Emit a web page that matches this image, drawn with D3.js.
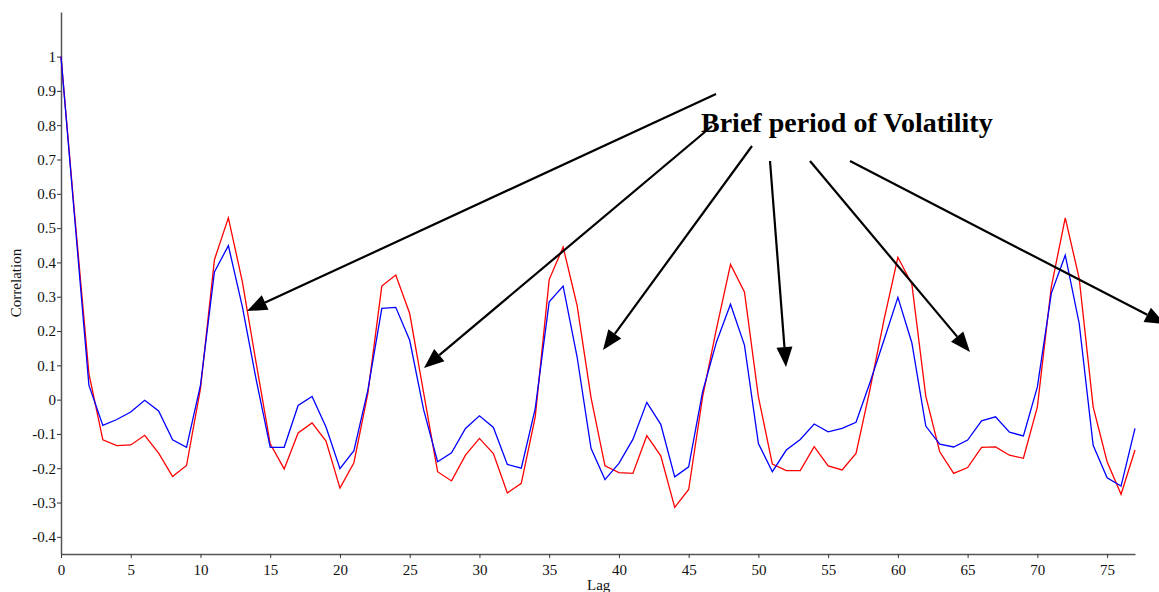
<!DOCTYPE html>
<html><head><meta charset="utf-8">
<script src="https://cdn.jsdelivr.net/npm/d3@7"></script>
<style>
body{margin:0;background:#fff;}
svg{display:block;}
svg text{font-family:"Liberation Serif","Times New Roman",serif !important;}
</style></head>
<body><svg id="chart" width="1159" height="592"></svg>
<script>
const lags = d3.range(0, 78);
const blueSeries = [1.0,0.52,0.042,-0.075,-0.058,-0.036,-0.002,-0.033,-0.117,-0.139,
 0.042,0.372,0.449,0.271,0.057,-0.139,-0.139,-0.017,0.009,-0.08,
 -0.201,-0.149,0.028,0.266,0.269,0.173,-0.03,-0.181,-0.155,-0.084,
 -0.047,-0.081,-0.189,-0.2,-0.026,0.285,0.331,0.125,-0.142,-0.233,
 -0.186,-0.116,-0.008,-0.072,-0.225,-0.196,0.023,0.169,0.278,0.159,
 -0.128,-0.21,-0.147,-0.116,-0.071,-0.094,-0.084,-0.066,0.05,0.173,
 0.298,0.166,-0.077,-0.13,-0.138,-0.118,-0.062,-0.05,-0.095,-0.106,
 0.037,0.31,0.421,0.222,-0.133,-0.228,-0.252,-0.084];
const redSeries = [1.0,0.53,0.076,-0.117,-0.134,-0.132,-0.104,-0.156,-0.224,-0.192,
 0.032,0.408,0.53,0.344,0.105,-0.129,-0.202,-0.097,-0.068,-0.121,
 -0.258,-0.184,0.018,0.331,0.363,0.251,0.02,-0.21,-0.237,-0.162,
 -0.113,-0.157,-0.272,-0.244,-0.05,0.35,0.445,0.275,0.006,-0.193,
 -0.213,-0.215,-0.105,-0.164,-0.314,-0.262,0.008,0.208,0.394,0.314,
 0.008,-0.188,-0.207,-0.207,-0.137,-0.193,-0.205,-0.157,0.03,0.232,
 0.415,0.337,0.01,-0.152,-0.215,-0.198,-0.139,-0.138,-0.162,-0.171,
 -0.021,0.329,0.53,0.353,-0.021,-0.181,-0.276,-0.147];
const xTicks = d3.range(0, 80, 5);
const yTicks = [-0.4,-0.3,-0.2,-0.1,0,0.1,0.2,0.3,0.4,0.5,0.6,0.7,0.8,0.9,1];
const annotationText = "Brief period of Volatility";
const arrows = [
  {from:[716,94], to:[247,311]},
  {from:[712,126], to:[424,368]},
  {from:[752,146], to:[603,350]},
  {from:[770,161], to:[786,367]},
  {from:[810,161], to:[970,352]},
  {from:[850,161], to:[1165,324]}
];

const svg = d3.select("#chart");
const x = d3.scaleLinear().domain([0, 77]).range([61, 1135]);
const y = d3.scaleLinear().domain([-0.45, 1.13]).range([554, 12]);

// axes
const xAxis = d3.axisBottom(x).tickValues(xTicks).tickSize(4).tickSizeOuter(0).tickFormat(d3.format("d"));
const gx = svg.append("g").attr("transform", `translate(0,${y(-0.45)})`).call(xAxis);
gx.attr("font-family", null).attr("font-size", null);
gx.select(".domain").attr("stroke", "#555").attr("stroke-width", 1.5);
gx.selectAll(".tick line").attr("stroke", "#333");
gx.selectAll(".tick text").style("font-size", "15px").attr("fill", "#111").attr("dy", "0.9em");

const yAxis = d3.axisLeft(y).tickValues(yTicks).tickSize(4).tickSizeOuter(0).tickFormat(d => String(+d.toFixed(1)));
const gy = svg.append("g").attr("transform", `translate(${x(0)},0)`).call(yAxis);
gy.attr("font-family", null).attr("font-size", null);
gy.select(".domain").attr("stroke", "#555").attr("stroke-width", 1.5);
gy.selectAll(".tick line").attr("stroke", "#333");
gy.selectAll(".tick text").style("font-size", "15px").attr("fill", "#111").attr("x", -5);

// axis titles
svg.append("text").attr("x", 587).attr("y", 590).style("font-size", "15px").attr("fill", "#111").text("Lag");
svg.append("text").attr("transform", "translate(21,283) rotate(-90)").attr("text-anchor", "middle")
  .style("font-size", "15px").attr("fill", "#111").text("Correlation");

// lines
const line = d3.line().x((d, i) => x(lags[i])).y(d => y(d));
svg.append("path").datum(redSeries).attr("d", line).attr("fill", "none").attr("stroke", "#ff0000").attr("stroke-width", 1.3);
svg.append("path").datum(blueSeries).attr("d", line).attr("fill", "none").attr("stroke", "#0000ff").attr("stroke-width", 1.3);

// annotation text
svg.append("text").attr("x", 701).attr("y", 132).style("font-size", "28px").attr("font-weight", "bold")
  .attr("fill", "#000").text(annotationText);

// arrows
const headLen = 20, headW = 8;
arrows.forEach(a => {
  const [x1, y1] = a.from, [x2, y2] = a.to;
  const dx = x2 - x1, dy = y2 - y1, L = Math.hypot(dx, dy);
  const ux = dx / L, uy = dy / L;
  const bx = x2 - ux * headLen, by = y2 - uy * headLen;
  svg.append("line").attr("x1", x1).attr("y1", y1).attr("x2", bx).attr("y2", by)
    .attr("stroke", "#000").attr("stroke-width", 2.2);
  svg.append("path").attr("d", `M${x2},${y2}L${bx - uy * headW},${by + ux * headW}L${bx + uy * headW},${by - ux * headW}Z`)
    .attr("fill", "#000");
});
</script></body></html>
